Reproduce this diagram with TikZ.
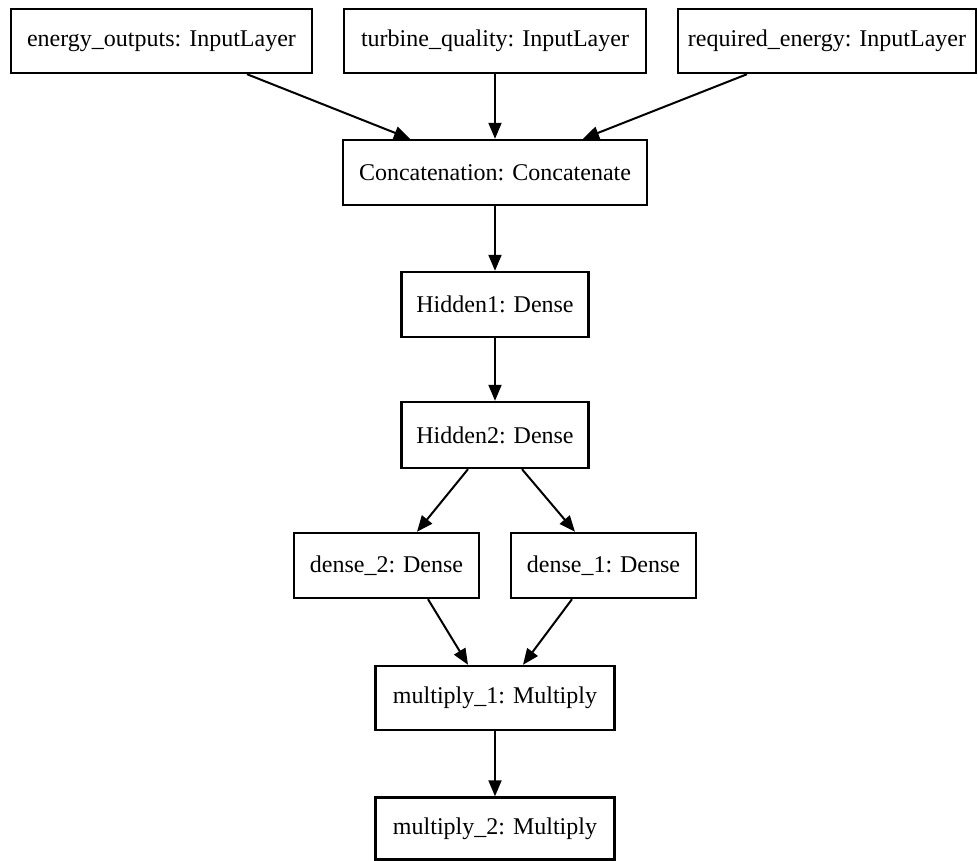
\documentclass[tikz,border=0pt]{standalone}
\usepackage{fontspec}
\setmainfont{Liberation Serif}
\usetikzlibrary{arrows.meta}
\begin{document}
\begin{tikzpicture}[x=1pt,y=-1pt,
  layer/.style={draw=black, line width=2.4pt, rectangle, inner sep=0pt, font=\fontsize{24}{26}\selectfont, text=black},
  arr/.style={draw=black, line width=2pt, -{Triangle[length=16pt,width=13pt]}}]
\useasboundingbox[fill=white] (0,0) rectangle (978,861);
\node[layer, minimum width=301pt, minimum height=64pt] (energy) at (161.5,41) {energy\_outputs: InputLayer};
\node[layer, minimum width=302pt, minimum height=64pt] (turbine) at (495,41) {turbine\_quality: InputLayer};
\node[layer, minimum width=298pt, minimum height=64pt] (required) at (827,41) {required\_energy: InputLayer};
\node[layer, minimum width=304pt, minimum height=65pt] (concat) at (495,172.5) {Concatenation: Concatenate};
\node[layer, minimum width=187pt, minimum height=65pt] (hidden1) at (495,304.5) {Hidden1: Dense};
\node[layer, minimum width=187pt, minimum height=66pt] (hidden2) at (495,435) {Hidden2: Dense};
\node[layer, minimum width=185pt, minimum height=65pt] (dense2) at (386.5,565.5) {dense\_2: Dense};
\node[layer, minimum width=185pt, minimum height=65pt] (dense1) at (603.5,565.5) {dense\_1: Dense};
\node[layer, minimum width=239pt, minimum height=64pt] (mult1) at (495,698) {multiply\_1: Multiply};
\node[layer, minimum width=239pt, minimum height=62pt] (mult2) at (495,828.5) {multiply\_2: Multiply};
\draw[arr] ([xshift=85.5pt]energy.south) -- ([xshift=-85pt]concat.north);
\draw[arr] (turbine.south) -- (concat.north);
\draw[arr] ([xshift=-80pt]required.south) -- ([xshift=88pt]concat.north);
\draw[arr] (concat.south) -- (hidden1.north);
\draw[arr] (hidden1.south) -- (hidden2.north);
\draw[arr] ([xshift=-27pt]hidden2.south) -- ([xshift=30.5pt]dense2.north);
\draw[arr] ([xshift=27pt]hidden2.south) -- ([xshift=-28.5pt]dense1.north);
\draw[arr] ([xshift=41.5pt]dense2.south) -- ([xshift=-27pt]mult1.north);
\draw[arr] ([xshift=-31.5pt]dense1.south) -- ([xshift=28pt]mult1.north);
\draw[arr] (mult1.south) -- (mult2.north);
\end{tikzpicture}
\end{document}
